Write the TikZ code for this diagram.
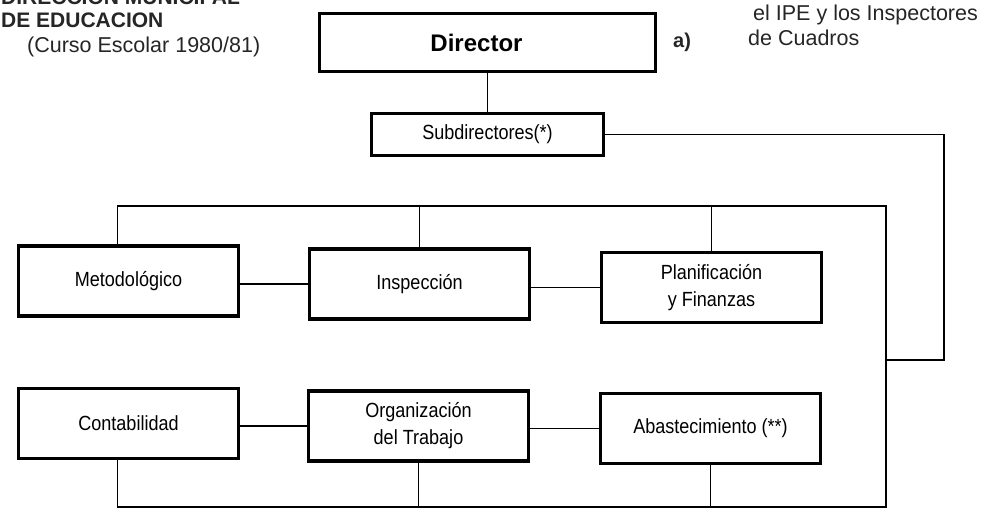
\documentclass[tikz,border=0pt]{standalone}
\usepackage{fontspec}
\setmainfont{Liberation Sans}
\usetikzlibrary{calc}
\newcommand\cnd[1]{\scalebox{0.88}[1]{#1}}
\tikzset{
  orgbox/.style={draw=black, line width=3.2pt, fill=white, inner sep=0pt,
    minimum width=220pt, minimum height=70pt, align=center,
    font=\fontsize{20.5}{27}\selectfont},
  conn/.style={draw=black, line width=1.6pt},
  hdr/.style={inner sep=0pt, anchor=west, text=black!85}
}
\begin{document}
\begin{tikzpicture}[x=1pt, y=-1pt]
\useasboundingbox[fill=white] (0,0) rectangle (995,512);

% header texts
\node[hdr, font=\bfseries\fontsize{21}{22}\selectfont, anchor=base west] (h0) at (1,4) {DIRECCION MUNICIPAL};
\node[hdr, font=\bfseries\fontsize{21}{22}\selectfont, anchor=base west] (h1) at (1,27) {DE EDUCACION};
\node[hdr, font=\fontsize{21.5}{22}\selectfont] (h2) at (27,47) {(Curso Escolar 1980/81)};
\node[hdr, font=\bfseries\fontsize{20}{22}\selectfont] (h3) at (673,42) {a)};
\node[hdr, font=\fontsize{21.5}{22}\selectfont] (h4) at (753,15) {el IPE y los Inspectores};
\node[hdr, font=\fontsize{21.5}{22}\selectfont] (h5) at (748,38) {de Cuadros};

% boxes
\node[orgbox, minimum width=336pt, minimum height=58pt, font=\bfseries\fontsize{24}{26}\selectfont] (dir) at (487.5,42.5) {\hspace*{-22pt}Director};
\node[orgbox, minimum width=232pt, minimum height=42pt] (sub) at (487.5,134.5) {\cnd{Subdirectores(*)}};

\node[orgbox] (met) at (128.5,281) {\cnd{Metodológico}};
\node[orgbox] (insp) at (419.5,284) {\cnd{Inspección}};
\node[orgbox] (plan) at (711.5,287.5) {\cnd{\begin{tabular}{@{}c@{}}Planificación\\y Finanzas\end{tabular}}};

\node[orgbox] (cont) at (128.5,423.5) {\cnd{Contabilidad}};
\node[orgbox] (org) at (418.5,426) {\cnd{\begin{tabular}{@{}c@{}}Organización\\del Trabajo\end{tabular}}};
\node[orgbox] (abast) at (710.5,428.5) {\cnd{Abastecimiento (**)}};

% junction coordinates
\coordinate (tr) at (886,206);
\coordinate (br) at (886,507);
\coordinate (jr) at (944,360);
\coordinate (jl) at (886,360);
\coordinate (metN) at ($(met.north west)!0.45!(met.north east)$);
\coordinate (contS) at ($(cont.south west)!0.45!(cont.south east)$);

% connectors
\draw[conn] (dir.south) -- (sub.north);
\draw[conn] (sub.east) -| (jr) -- (jl);
\draw[conn] (metN) |- (tr) -- (br) -| (contS);
\draw[conn] (insp.north) -- (insp.north |- tr);
\draw[conn] (plan.north) -- (plan.north |- tr);
\draw[conn] (org.south) -- (org.south |- br);
\draw[conn] (abast.south) -- (abast.south |- br);
\draw[conn] (insp.west -| met.east) -- (insp.west);
\draw[conn] (plan.west -| insp.east) -- (plan.west);
\draw[conn] (org.west -| cont.east) -- (org.west);
\draw[conn] (abast.west -| org.east) -- (abast.west);
\end{tikzpicture}
\end{document}
